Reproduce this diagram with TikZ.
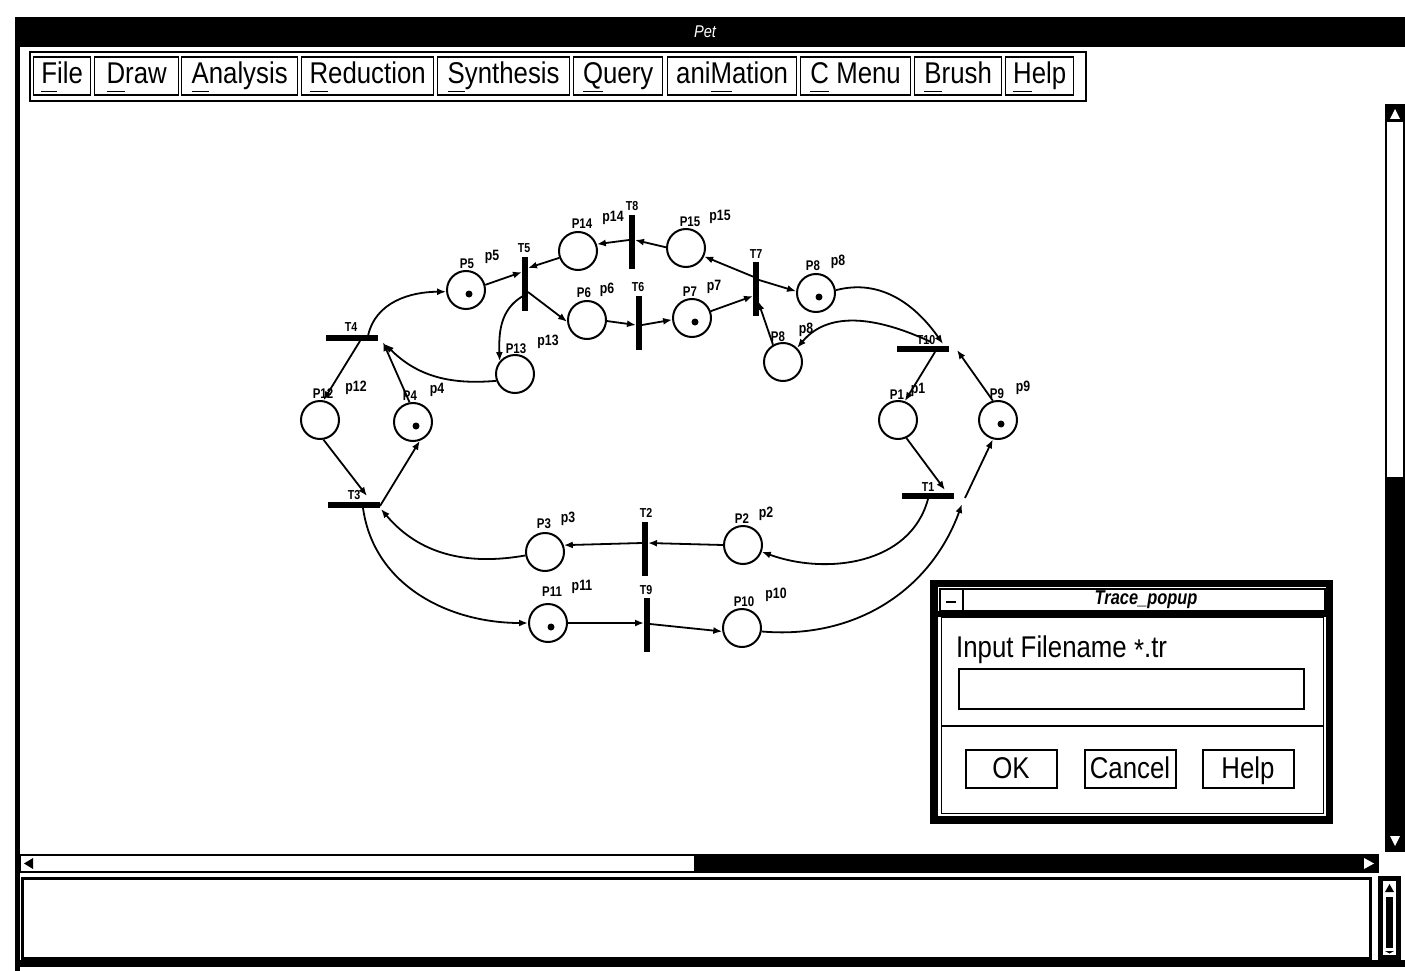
\documentclass[tikz,border=0pt]{standalone}
\usepackage{fontspec}
\setmainfont{Liberation Sans}[FakeStretch=0.86]
\newfontfamily\netfont{Liberation Sans}[FakeStretch=0.82]
\usetikzlibrary{arrows.meta,calc}
\newcommand\ulx[1]{\setbox0\hbox{#1}\rlap{\rule[-8pt]{\wd0}{1.2pt}}#1}
\begin{document}
\begin{tikzpicture}[x=1pt,y=1pt,
  place/.style={circle,draw,line width=2pt,minimum size=38pt,inner sep=0pt},
  vbar/.style={fill=black,minimum width=6pt,minimum height=54pt,inner sep=0pt},
  hbar/.style={fill=black,minimum width=52pt,minimum height=6pt,inner sep=0pt},
  arc/.style={line width=1.8pt,-{Latex[length=9pt,width=7pt]}},
  cl/.style={font=\netfont\bfseries\fontsize{14}{14}\selectfont,inner sep=0pt},
  sl/.style={font=\netfont\bfseries\fontsize{15}{15}\selectfont,inner sep=0pt},
  tl/.style={font=\netfont\bfseries\fontsize{13}{13}\selectfont,inner sep=0pt},
  menu/.style={draw,line width=1.3pt,minimum height=38pt,anchor=west,inner sep=0pt,
    text height=21pt,text depth=5pt,font=\fontsize{30}{30}\selectfont},
  btn/.style={draw,line width=2pt,minimum height=38pt,minimum width=91pt,inner sep=0pt,
    text height=21pt,text depth=3pt,font=\fontsize{30}{30}\selectfont},
]
\useasboundingbox (0,0) rectangle (1405,-971);
\fill[white] (0,0) rectangle (1405,-971);

% ---------- window frame ----------
\fill (15,-17) rectangle (1405,-47);
\node[text=white,font=\itshape\fontsize{17}{17}\selectfont] (title) at (705,-32) {Pet};
\fill (15,-17) rectangle (20,-971);
\fill (15,-960) rectangle (1405,-967);

% ---------- menu bar ----------
\draw[line width=1.5pt] (30,-52) rectangle (1086,-101);
\node[menu,minimum width=57pt]  (mFile) at (33,-76)  {\ulx{F}ile};
\node[menu,minimum width=84pt]  (mDraw) at (94,-76)  {\ulx{D}raw};
\node[menu,minimum width=116pt] (mAna)  at (181,-76) {\ulx{A}nalysis};
\node[menu,minimum width=132pt] (mRed)  at (301,-76) {\ulx{R}eduction};
\node[menu,minimum width=132pt] (mSyn)  at (437,-76) {\ulx{S}ynthesis};
\node[menu,minimum width=89pt]  (mQue)  at (573,-76) {\ulx{Q}uery};
\node[menu,minimum width=129pt] (mAni)  at (667,-76) {ani\ulx{M}ation};
\node[menu,minimum width=110pt] (mCme)  at (800,-76) {\ulx{C} Menu};
\node[menu,minimum width=87pt]  (mBru)  at (914,-76) {\ulx{B}rush};
\node[menu,minimum width=68pt]  (mHel)  at (1005,-76) {\ulx{H}elp};

% ---------- scrollbars ----------
\draw[line width=1.5pt] (1386,-105) rectangle (1404,-851);
\fill (1386,-477) rectangle (1404,-851);
\fill (1386,-105) rectangle (1404,-122);
\fill[white] (1390,-119) -- (1400,-119) -- (1395,-109) -- cycle;
\fill[white] (1390,-836) -- (1400,-836) -- (1395,-846) -- cycle;
\draw[line width=1.5pt] (20,-855) rectangle (1378,-872);
\fill (694,-855) rectangle (1378,-872);
\fill (24,-863.5) -- (33,-858) -- (33,-869) -- cycle;
\fill[white] (1364,-858) -- (1364,-869) -- (1374,-863.5) -- cycle;
% message area
\draw[line width=3pt] (22,-878) rectangle (1370,-958);
\fill (1378,-876) rectangle (1401,-960);
\fill[white] (1383,-881) rectangle (1396,-955);
\fill (1386,-897) rectangle (1393,-948);
\fill (1385,-892) -- (1394,-892) -- (1389.5,-884) -- cycle;
\fill (1385,-951) -- (1394,-951) -- (1389.5,-953.5) -- cycle;

% ---------- Petri net: places ----------
\node[place] (p5)  at (466,-290) {};
\node[place] (p14) at (578,-251) {};
\node[place] (p15) at (686,-248) {};
\node[place] (p6)  at (587,-320) {};
\node[place] (p7)  at (692,-318) {};
\node[place] (p8a) at (816,-293) {};
\node[place] (p8b) at (783,-362) {};
\node[place] (p12) at (320,-420) {};
\node[place] (p4)  at (413,-422) {};
\node[place] (p13) at (515,-374) {};
\node[place] (p1)  at (898,-420) {};
\node[place] (p9)  at (998,-420) {};
\node[place] (p3)  at (545,-552) {};
\node[place] (p2)  at (743,-545) {};
\node[place] (p11) at (548,-623) {};
\node[place] (p10) at (742,-628) {};
% tokens
\foreach \p in {p5,p7,p8a,p4,p9,p11}
  \fill ($(\p)+(3,-4)$) circle (3.5);

% ---------- transitions ----------
\node[vbar] (t5)  at (525,-284) {};
\node[vbar] (t8)  at (632,-242) {};
\node[vbar] (t6)  at (639,-323) {};
\node[vbar] (t7)  at (756,-289) {};
\node[vbar] (t2)  at (645,-549) {};
\node[vbar] (t9)  at (647,-625) {};
\node[hbar] (t4)  at (352,-338) {};
\node[hbar] (t3)  at (354,-505) {};
\node[hbar] (t10) at (923,-349) {};
\node[hbar] (t1)  at (928,-496) {};

% ---------- labels ----------
\node[tl] (lT5)  at (524,-248) {T5};
\node[tl] (lT8)  at (632,-206) {T8};
\node[tl] (lT6)  at (638,-287) {T6};
\node[tl] (lT7)  at (756,-254) {T7};
\node[tl] (lT2)  at (646,-513) {T2};
\node[tl] (lT9)  at (646,-590) {T9};
\node[tl] (lT4)  at (351,-327) {T4};
\node[tl] (lT3)  at (354,-495) {T3};
\node[tl] (lT10) at (926,-340) {T10};
\node[tl] (lT1)  at (928,-487) {T1};

\node[cl] (lP5)  at (467,-264) {P5};   \node[sl] (lp5)  at (492,-257) {p5};
\node[cl] (lP14) at (582,-224) {P14};  \node[sl] (lp14) at (613,-218) {p14};
\node[cl] (lP15) at (690,-222) {P15};  \node[sl] (lp15) at (720,-217) {p15};
\node[cl] (lP6)  at (584,-293) {P6};   \node[sl] (lp6)  at (607,-290) {p6};
\node[cl] (lP7)  at (690,-292) {P7};   \node[sl] (lp7)  at (714,-287) {p7};
\node[cl] (lP8a) at (813,-266) {P8};   \node[sl] (lp8a) at (838,-262) {p8};
\node[cl] (lP8b) at (778,-337) {P8};   \node[sl] (lp8b) at (806,-330) {p8};
\node[cl] (lP12) at (323,-394) {P12};  \node[sl] (lp12) at (356,-388) {p12};
\node[cl] (lP4)  at (410,-396) {P4};   \node[sl] (lp4)  at (437,-390) {p4};
\node[cl] (lP13) at (516,-349) {P13};  \node[sl] (lp13) at (548,-342) {p13};
\node[cl] (lP1)  at (897,-395) {P1};   \node[sl] (lp1)  at (918,-390) {p1};
\node[cl] (lP9)  at (997,-394) {P9};   \node[sl] (lp9)  at (1023,-388) {p9};
\node[cl] (lP3)  at (544,-524) {P3};   \node[sl] (lp3)  at (568,-519) {p3};
\node[cl] (lP2)  at (742,-519) {P2};   \node[sl] (lp2)  at (766,-514) {p2};
\node[cl] (lP11) at (552,-592) {P11};  \node[sl] (lp11) at (582,-587) {p11};
\node[cl] (lP10) at (744,-602) {P10};  \node[sl] (lp10) at (776,-595) {p10};

% ---------- arcs ----------
\draw[arc] ($(t4)+(16,2)$) to[out=78,in=180] (p5.185);
\draw[arc] (p5.15) -- ($(t5)+(-3,12)$);
\draw[arc] (p14.200) -- ($(t5)+(3,16)$);
\draw[arc] ($(t8)+(-3,2)$) -- (p14.20);
\draw[arc] (p15.178) -- ($(t8)+(3,2)$);
\draw[arc] ($(t7)+(-2,12)$) -- (p15.-25);
\draw[arc] ($(t5)+(3,-8)$) -- (p6.185);
\draw[arc] (p6.357) -- ($(t6)+(-3,-2)$);
\draw[arc] ($(t6)+(3,-2)$) -- (p7.185);
\draw[arc] (p7.20) -- ($(t7)+(-3,-7)$);
\draw[arc] ($(t7)+(3,9)$) -- (p8a.175);
\draw[arc] (p8b.120) -- ($(t7)+(2,-12)$);
\draw[arc] (p8a.8) to[out=15,in=125] ($(t10)+(20,5)$);
\draw[arc] ($(t10)+(8,7)$) to[out=155,in=50] (p8b.45);
\draw[arc] (p9.105) -- ($(t10)+(34,-1)$);
\draw[arc] ($(t10)+(12,-3)$) -- (p1.70);
\draw[arc] (p1.-65) -- ($(t1)+(17,6)$);
\draw[arc] ($(t1)+(0,-3)$) to[out=-105,in=-20] (p2.-20);
\draw[arc] (p10.-10) to[out=-5,in=-110] ($(t1)+(34,-8)$);
\draw[arc] ($(t1)+(37,-2)$) -- (p9.-105);
\draw[arc] (p2.180) -- ($(t2)+(3,6)$);
\draw[arc] ($(t2)+(-3,6)$) -- (p3.20);
\draw[arc] (p3.190) to[out=190,in=-50] ($(t3)+(27,-4)$);
\draw[arc] ($(t3)+(26,-1)$) -- (p4.-70);
\draw[arc] (p12.-80) -- ($(t3)+(13,9)$);
\draw[arc] ($(t3)+(9,-3)$) to[out=-82,in=180] (p11.180);
\draw[arc] (p11.0) -- ($(t9)+(-3,2)$);
\draw[arc] ($(t9)+(3,1)$) -- (p10.190);
\draw[arc] ($(t4)+(8,-3)$) -- (p12.80);
\draw[arc] (p4.100) -- ($(t4)+(31,-4)$);
\draw[arc] (p13.200) to[out=185,in=-45] ($(t4)+(33,-6)$);
\draw[arc] ($(t5)+(-2,-12)$) to[out=210,in=92] (p13.140);

% ---------- popup ----------
\fill (930,-580) rectangle (1333,-824);
\fill[white] (938,-587) rectangle (1326,-816);
\draw[line width=1.2pt] (940,-589) rectangle (963,-611);
\draw[line width=1.2pt] (963,-589) rectangle (1325,-611);
\draw[line width=1.5pt] (946,-602) -- (956,-602);
\node[font=\netfont\bfseries\itshape\fontsize{20}{20}\selectfont] (ptitle) at (1146,-600) {Trace\_popup};
\fill (938,-611) rectangle (1326,-617);
\draw[line width=1pt] (941,-617) rectangle (1323,-813);
\node[anchor=base west,inner sep=0pt,font=\fontsize{30}{30}\selectfont] (plabel) at (956,-657) {Input Filename \raisebox{-0.25ex}{*}.tr};
\node[draw,line width=2pt,minimum width=345pt,minimum height=40pt,anchor=north west,inner sep=0pt] (pfield) at (958,-668) {};
\draw[line width=1.5pt] (941,-726) -- (1323,-726);
\node[btn] (bok)  at (1011,-769) {OK};
\node[btn] (bcan) at (1130,-769) {Cancel};
\node[btn] (bhel) at (1248,-769) {Help};
\end{tikzpicture}
\end{document}
